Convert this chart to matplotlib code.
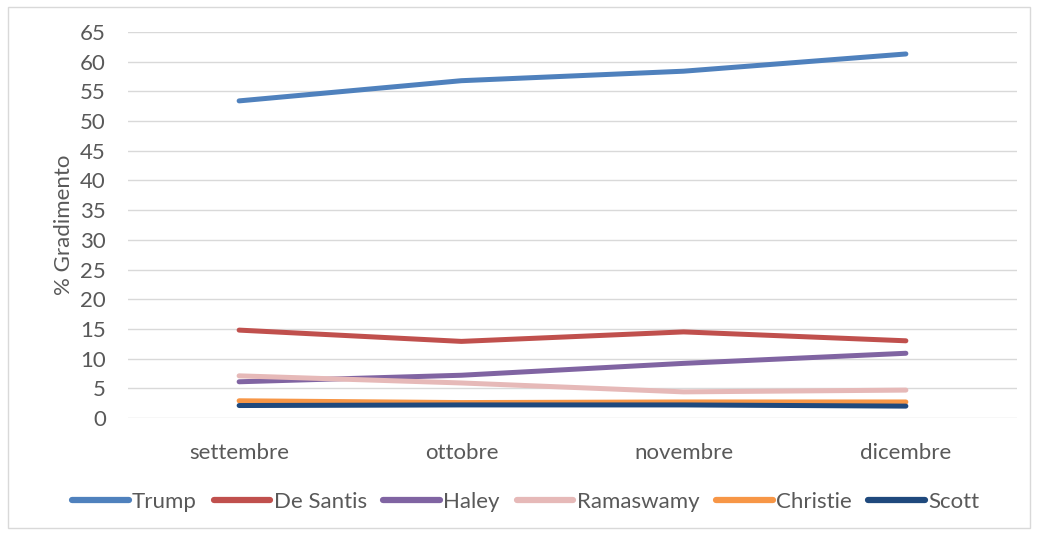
import matplotlib
matplotlib.use("Agg")
import matplotlib.pyplot as plt
from matplotlib.patches import Rectangle

months = ["settembre", "ottobre", "novembre", "dicembre"]
trump = [53.4, 56.8, 58.4, 61.3]
desantis = [14.8, 12.9, 14.5, 13.0]
haley = [6.1, 7.2, 9.2, 10.9]
ramaswamy = [7.1, 5.9, 4.4, 4.7]
christie = [2.9, 2.6, 2.7, 2.7]
scott = [2.1, 2.2, 2.2, 2.0]

series = [("Trump", trump, "#4f81bd"), ("De Santis", desantis, "#c0504d"),
          ("Haley", haley, "#8064a2"), ("Ramaswamy", ramaswamy, "#e6b9b8"),
          ("Christie", christie, "#f79646"), ("Scott", scott, "#1f497d")]

plt.rcParams['font.family'] = ['Lato', 'DejaVu Sans']
fig = plt.figure(figsize=(10.37, 5.35), dpi=100)
ax = fig.add_axes([128/1037, 1-418/535, (1017-128)/1037, (418-32)/535])

x = list(range(len(months)))
for name, vals, c in series:
    ax.plot(x, vals, color=c, lw=3.6, label=name, solid_capstyle='round')

ax.set_xlim(-0.5, 3.5)
ax.set_ylim(0, 65)
ax.set_yticks(range(0, 66, 5))
ax.set_xticks(x)
ax.set_xticklabels(months)
ax.grid(axis='y', color='#d9d9d9', lw=1)
ax.set_axisbelow(True)
for s in ax.spines.values():
    s.set_visible(False)
ax.tick_params(length=0, labelsize=16, colors='#595959')
ax.tick_params(axis='y', pad=16)
ax.tick_params(axis='x', pad=18)
ax.set_ylabel("% Gradimento", fontsize=16, color='#595959', labelpad=4)

fig.patches.append(Rectangle((8/1037, 7/535), 1022/1037, 521/535, transform=fig.transFigure,
                             fill=False, edgecolor='#d9d9d9', lw=1))

leg = fig.legend(loc='center', bbox_to_anchor=(0.507, 1-502/535), ncol=6, frameon=False,
                 fontsize=16, handlelength=2.55, handletextpad=0.15, columnspacing=0.75)
for t in leg.get_texts():
    t.set_color('#595959')
for h in leg.get_lines():
    h.set_linewidth(4.5)

fig.savefig("out.png", dpi=100)
